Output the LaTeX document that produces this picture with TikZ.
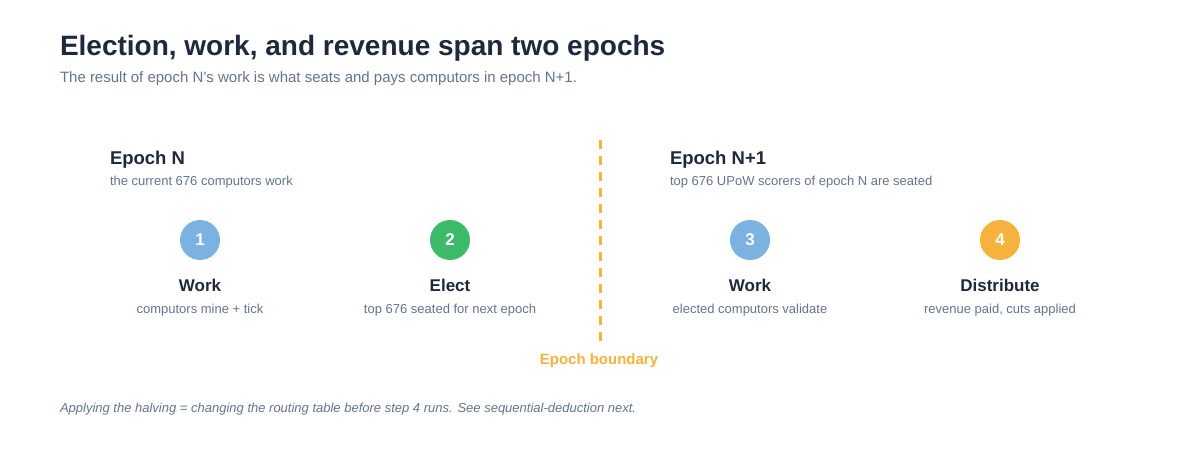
\documentclass[tikz,border=0pt]{standalone}
\usepackage{fontspec}
\setmainfont{Liberation Sans}
\usepackage{tikz}
\usetikzlibrary{positioning}

\definecolor{ink}{HTML}{1E293B}
\definecolor{muted}{HTML}{64748B}
\definecolor{stepblue}{HTML}{7BB2E0}
\definecolor{stepgreen}{HTML}{3DBA6A}
\definecolor{steporange}{HTML}{F5B23C}

\begin{document}
\begin{tikzpicture}[x=1pt,y=-1pt,
   every node/.style={inner sep=0pt,outer sep=0pt},
   title/.style={anchor=base west,text=ink,font=\fontsize{28}{32}\selectfont\bfseries},
   subtitle/.style={anchor=base west,text=muted,font=\fontsize{15}{18}\selectfont},
   phase/.style={anchor=base west,text=ink,font=\fontsize{18.5}{22}\selectfont\bfseries},
   phasenote/.style={anchor=base west,text=muted,font=\fontsize{13}{16}\selectfont},
   stepdot/.style={circle,minimum size=40pt,text=white,font=\fontsize{17}{20}\selectfont\bfseries},
   steplabel/.style={anchor=base,text=ink,font=\fontsize{17}{20}\selectfont\bfseries},
   stepnote/.style={anchor=base,text=muted,font=\fontsize{13}{16}\selectfont},
   boundary/.style={draw=steporange,line width=3pt,dash pattern=on 9pt off 7pt}]
\useasboundingbox (0,0) rectangle (1200,460);

\node[title] (title) at (60,56) {Election, work, and revenue span two epochs};
\node[subtitle] (subtitle) at (60,82) {The result of epoch N's work is what seats and pays computors in epoch N+1.};

% epoch N
\node[phase] (epochN) at (110,164) {Epoch N};
\node[phasenote] (epochNnote) at (110,185) {the current 676 computors work};

\node[stepdot,fill=stepblue] (s1) at (200,240) {1};
\node[steplabel] (s1label) at (200,291) {Work};
\node[stepnote] (s1note) at (200,313) {computors mine + tick};

\node[stepdot,fill=stepgreen] (s2) at (450,240) {2};
\node[steplabel] (s2label) at (450,291) {Elect};
\node[stepnote] (s2note) at (450,313) {top 676 seated for next epoch};

% boundary
\coordinate (bdtop) at (600,140);
\coordinate (bdbot) at (600,341);
\draw[boundary] (bdtop) -- (bdbot);
\node[anchor=base,text=steporange,font=\fontsize{15}{18}\selectfont\bfseries] (bdlabel) at (599,364) {Epoch boundary};

% epoch N+1
\node[phase] (epochM) at (670,164) {Epoch N+1};
\node[phasenote] (epochMnote) at (670,185) {top 676 UPoW scorers of epoch N are seated};

\node[stepdot,fill=stepblue] (s3) at (750,240) {3};
\node[steplabel] (s3label) at (750,291) {Work};
\node[stepnote] (s3note) at (750,313) {elected computors validate};

\node[stepdot,fill=steporange] (s4) at (1000,240) {4};
\node[steplabel] (s4label) at (1000,291) {Distribute};
\node[stepnote] (s4note) at (1000,313) {revenue paid, cuts applied};

\node[anchor=base west,text=muted,font=\fontsize{13}{16}\selectfont\itshape] (footer) at (60,412)
  {Applying the halving = changing the routing table before step 4 runs. See sequential-deduction next.};
\end{tikzpicture}
\end{document}
